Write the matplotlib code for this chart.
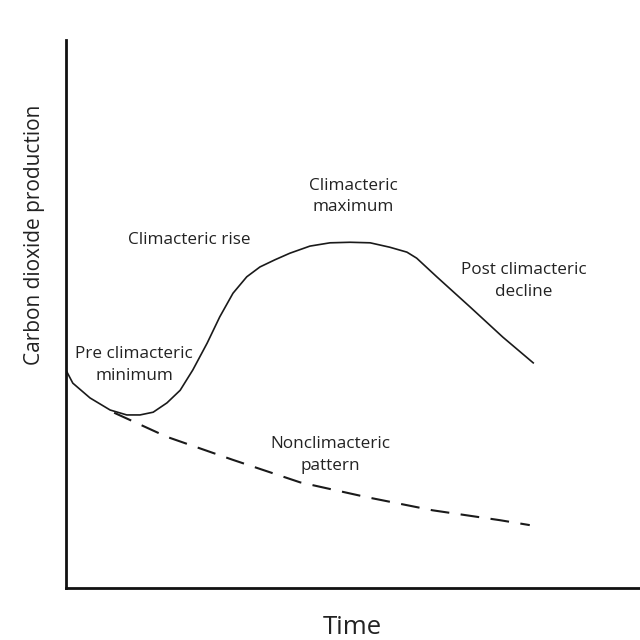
import matplotlib
matplotlib.use("Agg")
import matplotlib.pyplot as plt

plt.rcParams['font.family'] = ['Open Sans', 'DejaVu Sans']

# Climacteric curve (time, CO2 production), arbitrary units
clim_time = [0, 1.2, 4.2, 7.7, 10.6, 12.9, 15.2, 17.6, 19.9, 22.1, 24.6, 26.8, 29.1,
             31.5, 33.8, 36.4, 39.0, 42.5, 46.0, 49.5, 53.0, 56.4, 59.4, 61.1,
             64.6, 70.4, 76.1, 81.4]
clim_co2 = [39.8, 37.4, 34.7, 32.5, 31.6, 31.6, 32.1, 33.8, 36.1, 39.8, 44.7, 49.5, 53.8,
            56.8, 58.6, 59.9, 61.1, 62.4, 63.0, 63.1, 63.0, 62.2, 61.3, 60.2,
            56.8, 51.3, 45.8, 41.1]

# Nonclimacteric curve
nonclim_time = [8.4, 17.6, 29.1, 40.8, 52.4, 63.9, 75.6, 80.8]
nonclim_co2 = [32.0, 27.6, 23.4, 19.3, 16.6, 14.2, 12.4, 11.5]

labels = ["Climacteric rise", "Climacteric\nmaximum", "Post climacteric\ndecline",
          "Pre climacteric\nminimum", "Nonclimacteric\npattern"]
label_x = [21.4, 50.0, 79.8, 11.9, 46.0]
label_y = [63.5, 71.5, 56.0, 40.7, 24.3]

fig = plt.figure(figsize=(6.4, 6.4), dpi=100)
ax = fig.add_axes([0.103, 0.081, 0.897, 0.8565])
ax.plot(clim_time, clim_co2, color='#1a1a1a', lw=1.2, solid_joinstyle='round')
ax.plot(nonclim_time, nonclim_co2, color='#1a1a1a', lw=1.5, dashes=(9, 5.5))
ax.set_xlim(0, 100)
ax.set_ylim(0, 100)
for s in ['top', 'right']:
    ax.spines[s].set_visible(False)
for s in ['left', 'bottom']:
    ax.spines[s].set_linewidth(2)
    ax.spines[s].set_color('#111111')
ax.set_xticks([])
ax.set_yticks([])
for t, x, y in zip(labels, label_x, label_y):
    ax.text(x, y, t, ha='center', va='center', fontsize=12.3, color='#222222',
            linespacing=1.45)
fig.text(352 / 640, 1 - 628 / 640, "Time", ha='center', va='center',
         fontsize=18.5, color='#222222')
fig.text(35 / 640, 1 - 235 / 640, "Carbon dioxide production", ha='center',
         va='center', rotation=90, fontsize=15, color='#222222')
fig.savefig("out.png", dpi=100, facecolor='white')
